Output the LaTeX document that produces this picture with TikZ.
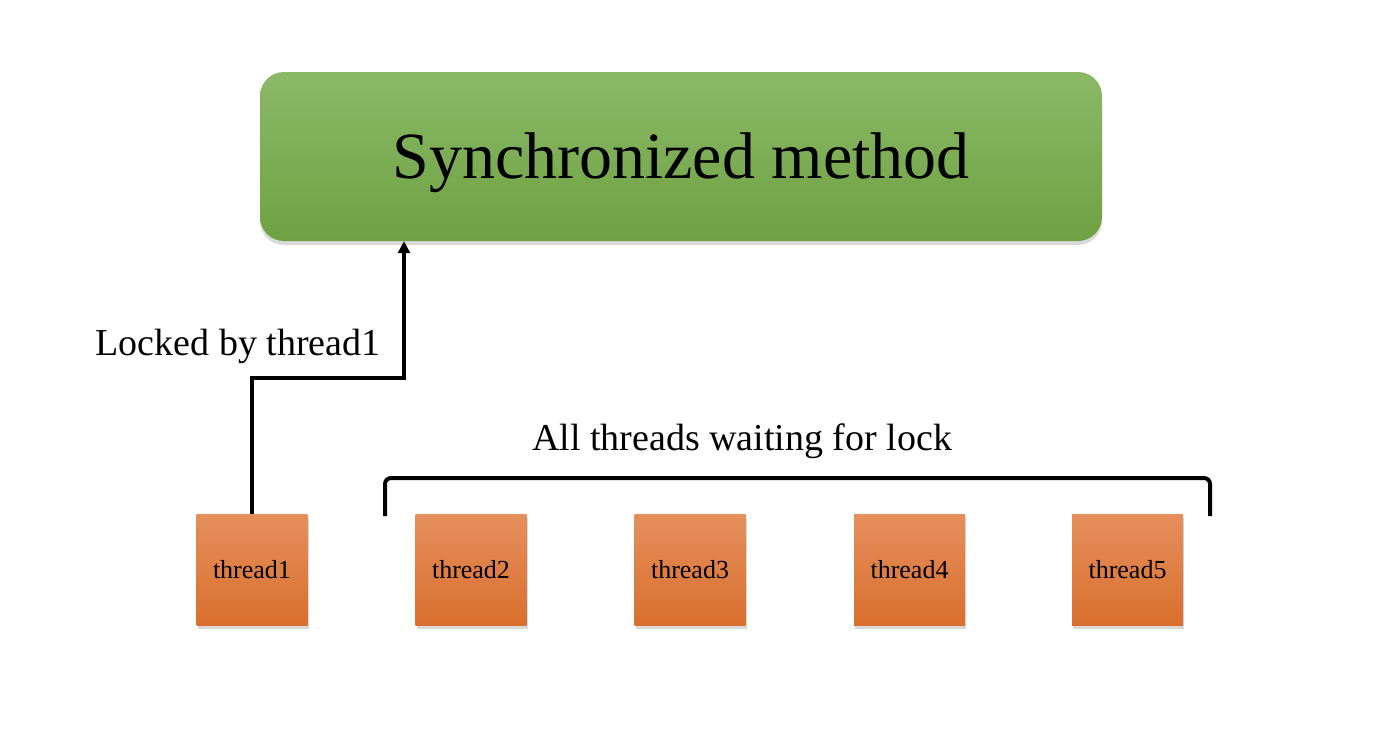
\documentclass[tikz,border=0pt]{standalone}
\usepackage{fontspec}
\setmainfont{Liberation Serif}
\usetikzlibrary{shadows,arrows.meta}
\definecolor{gtop}{HTML}{8BB968}
\definecolor{gbot}{HTML}{6EA142}
\definecolor{otop}{HTML}{E58F5C}
\definecolor{obot}{HTML}{D96F2E}
\tikzset{
  methodbox/.style={draw=none, rounded corners=24pt, top color=gtop, bottom color=gbot,
    minimum width=842pt, minimum height=169pt, inner sep=0pt,
    drop shadow={shadow xshift=0pt, shadow yshift=-4pt, opacity=0.3},
    font=\fontsize{66}{78}\selectfont},
  threadbox/.style={draw=none, top color=otop, bottom color=obot,
    minimum width=111pt, minimum height=111pt, inner sep=0pt,
    drop shadow={shadow xshift=1pt, shadow yshift=-4pt, opacity=0.3},
    font=\fontsize{26}{30}\selectfont},
  lbl/.style={font=\fontsize{38}{44}\selectfont, inner sep=0pt},
  conn/.style={line width=4pt, black},
}
\begin{document}
\begin{tikzpicture}[x=1pt,y=-1pt]
\useasboundingbox (0,0) rectangle (1400,739);
\node[methodbox] (m) at (681,156.5) {\raisebox{-22pt}[0pt][0pt]{Synchronized method}};
\node[threadbox] (t1) at (252,569.5) {thread1};
\node[threadbox] (t2) at (471,569.5) {thread2};
\node[threadbox] (t3) at (690,569.5) {thread3};
\node[threadbox] (t4) at (909.5,569.5) {thread4};
\node[threadbox] (t5) at (1127.5,569.5) {thread5};
\coordinate (bend) at (404,378);
\draw[conn, -{Triangle[width=12pt,length=12pt]}] (t1.north) |- (bend) -- (bend |- m.south);
\node[lbl] (l1) at (238,346) {Locked by thread1};
\node[lbl] (l2) at (742,441) {All threads waiting for lock};
\coordinate (bl) at (385,516);
\coordinate (br) at (1210,516);
\draw[conn, rounded corners=6pt] (bl) -- ++(0,-38) -- ++(825,0) -- (br);
\end{tikzpicture}
\end{document}
